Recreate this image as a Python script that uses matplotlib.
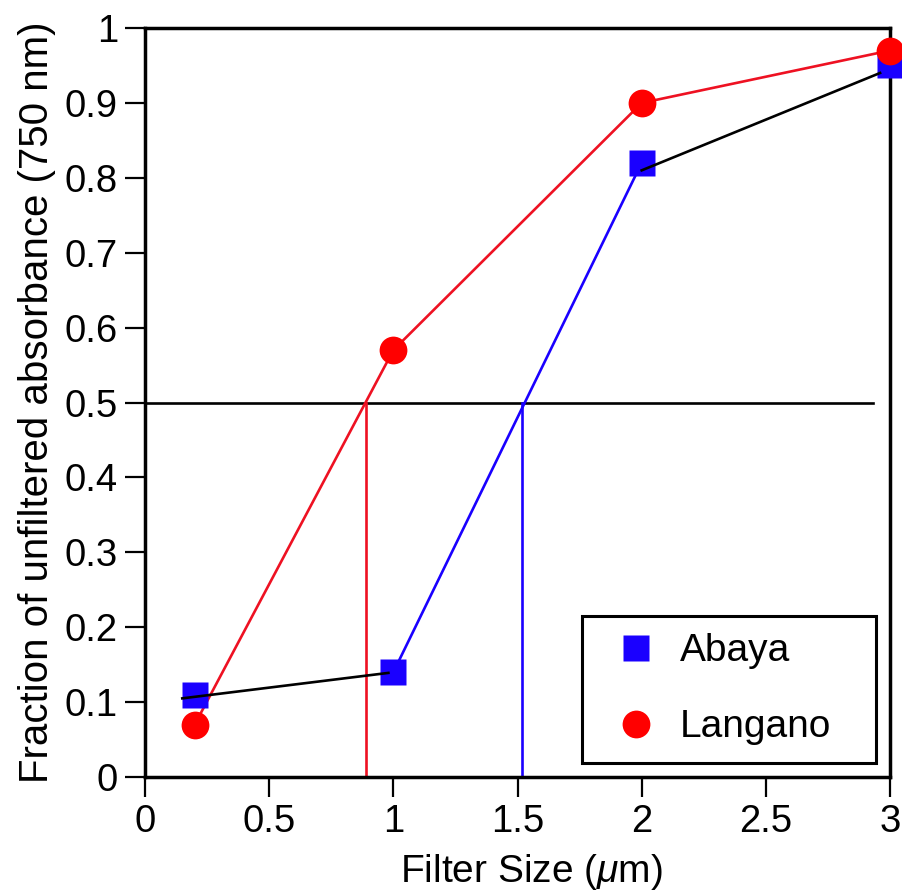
import matplotlib
matplotlib.use("Agg")
import matplotlib.pyplot as plt
from matplotlib.lines import Line2D

plt.rcParams['font.family'] = ['Liberation Sans', 'DejaVu Sans']
plt.rcParams['mathtext.fontset'] = 'custom'
plt.rcParams['mathtext.it'] = 'Liberation Sans:italic'
plt.rcParams['mathtext.rm'] = 'Liberation Sans'

# Data
filter_size = [0.2, 1, 2, 3]
abaya = [0.11, 0.14, 0.82, 0.95]
langano = [0.07, 0.57, 0.90, 0.97]

# fit segments (black)
fit1_x = [0.15, 0.98]
fit1_y = [0.105, 0.139]
fit2_x = [2.0, 2.96]
fit2_y = [0.81, 0.94]

half = 0.5
x50_langano = 0.888
x50_abaya = 1.52
hline_end = 2.93

xticks = [0, 0.5, 1, 1.5, 2, 2.5, 3]
xticklabels = ["0", "0.5", "1", "1.5", "2", "2.5", "3"]
yticks = [0, 0.1, 0.2, 0.3, 0.4, 0.5, 0.6, 0.7, 0.8, 0.9, 1]
yticklabels = ["0", "0.1", "0.2", "0.3", "0.4", "0.5", "0.6", "0.7", "0.8", "0.9", "1"]

fig = plt.figure(figsize=(9.02, 8.93), dpi=100)
ax = fig.add_axes([0.1608, 0.1299, 0.8259, 0.8387])

RED = '#ee1122'
BLUE = '#1a00ff'
LW = 1.9

# reference lines
ax.plot([0, hline_end], [half, half], color='black', lw=LW, zorder=2)
ax.plot([x50_langano, x50_langano], [0, half], color=RED, lw=LW, zorder=2)
ax.plot([x50_abaya, x50_abaya], [0, half], color=BLUE, lw=LW, zorder=2)

# series lines
ax.plot(filter_size, langano, color=RED, lw=LW, zorder=3)
ax.plot(filter_size[1:3], abaya[1:3], color=BLUE, lw=LW, zorder=3)
ax.plot(fit1_x, fit1_y, color='black', lw=LW, zorder=4)
ax.plot(fit2_x, fit2_y, color='black', lw=LW, zorder=4)

# markers
ax.plot(filter_size, abaya, ls='none', marker='s', ms=19, color=BLUE,
        mec='none', zorder=3, clip_on=False)
ax.plot(filter_size, langano, ls='none', marker='o', ms=20, color='red',
        mec='none', zorder=3.5, clip_on=False)

ax.set_xlim(0, 3)
ax.set_ylim(0, 1)
ax.set_xticks(xticks)
ax.set_xticklabels(xticklabels)
ax.set_yticks(yticks)
ax.set_yticklabels(yticklabels)
ax.tick_params(direction='out', length=14.5, width=1.6, labelsize=27.5, pad=5)

for s in ax.spines.values():
    s.set_linewidth(2.5)

ax.set_xlabel(r"Filter Size ($\mu$m)", fontsize=28, labelpad=3)
ax.xaxis.set_label_coords(0.518, -0.1)
ax.set_ylabel("Fraction of unfiltered absorbance (750 nm)", fontsize=29, labelpad=6)

handles = [
    Line2D([], [], ls='none', marker='s', ms=19, color=BLUE, mec='none'),
    Line2D([], [], ls='none', marker='o', ms=20, color='red', mec='none'),
]
leg = ax.legend(handles, ["Abaya", "Langano"], loc='lower left',
                bbox_to_anchor=(0.5866, 0.0187, 0.394, 0.2), mode='expand',
                fontsize=28, frameon=True, fancybox=False, borderpad=0.45,
                labelspacing=1.03, handletextpad=0.22, handlelength=1.85,
                borderaxespad=0)
leg.get_frame().set_edgecolor('black')
leg.get_frame().set_linewidth(2.2)
leg.get_frame().set_alpha(1)

fig.savefig("out.png", dpi=100)
